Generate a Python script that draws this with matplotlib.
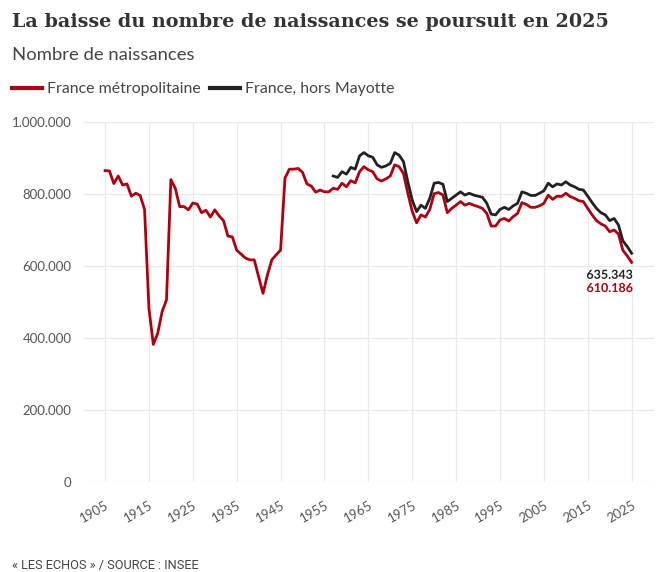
import matplotlib.pyplot as plt
import matplotlib.patheffects as pe

# Naissances, France metropolitaine (1905-2025)
metro_years = list(range(1905, 2026))
metro = [865000, 864000, 829000, 850000, 825000, 828000, 794000, 802000, 796000, 757000,
         482000, 382000, 413000, 473000, 506000, 840000, 816000, 765000, 765000, 756000,
         775000, 772000, 748000, 755000, 736000, 756000, 739000, 726000, 683000, 681000,
         644000, 633000, 622000, 617000, 617000, 570000, 524000, 575000, 617000, 631000,
         644000, 844000, 869000, 869000, 871000, 860000, 828000, 822000, 805000, 811000,
         806000, 806000, 816000, 813000, 830000, 820000, 837000, 831000, 862000, 876000,
         867000, 862000, 842000, 836000, 842000, 850000, 881000, 876000, 857000, 802000,
         752000, 720000, 742000, 736000, 757000, 801000, 804000, 797000, 748000, 760000,
         769000, 779000, 769000, 774000, 769000, 765000, 760000, 746000, 711000, 711000,
         728000, 732000, 725000, 737000, 746000, 776000, 771000, 763000, 763000, 767000,
         774000, 797000, 785000, 794000, 793000, 802000, 793000, 788000, 781000, 779000,
         760000, 742000, 726000, 717000, 711000, 695000, 700000, 689000, 644000, 628000,
         610186]

# Naissances, France hors Mayotte (1957-2025)
fr_years = list(range(1957, 2026))
france = [850000, 846000, 862000, 855000, 874000, 869000, 906000, 915000, 906000, 902000,
          881000, 874000, 878000, 885000, 915000, 908000, 890000, 834000, 783000, 751000,
          769000, 760000, 788000, 830000, 832000, 827000, 779000, 788000, 797000, 806000,
          797000, 802000, 797000, 794000, 791000, 774000, 744000, 742000, 757000, 763000,
          757000, 767000, 774000, 806000, 802000, 796000, 796000, 802000, 809000, 830000,
          820000, 828000, 825000, 834000, 825000, 820000, 813000, 811000, 794000, 776000,
          760000, 748000, 742000, 726000, 732000, 714000, 670000, 654000, 635343]

x_ticks = list(range(1905, 2026, 10))
y_ticks = [0, 200000, 400000, 600000, 800000, 1000000]

RED = "#b0000f"
BLACK = "#222222"
GRID = "#e9e9e9"
SANS = "Lato"


def fmt(v):
    return f"{v:,}".replace(",", ".")


fig = plt.figure(figsize=(6.56, 5.72), dpi=100)
ax = fig.add_axes([84 / 656, 1 - 482 / 572, 570 / 656, 360 / 572])

ax.plot(metro_years, metro, color=RED, lw=2.0, label="France métropolitaine", zorder=3)
ax.plot(fr_years, france, color=BLACK, lw=2.0, label="France, hors Mayotte", zorder=3)

ax.set_xlim(1900.2, 2030.1)
ax.set_ylim(0, 1000000)
ax.set_xticks(x_ticks)
ax.set_yticks(y_ticks)
ax.set_yticklabels([fmt(v) for v in y_ticks], fontfamily=SANS, fontsize=9.5, color="#555555")
ax.set_xticklabels([str(v) for v in x_ticks], fontfamily=SANS, fontsize=9.5, color="#555555",
                   rotation=30, ha="right", va="top", rotation_mode="anchor")
ax.tick_params(axis="both", length=0)
ax.tick_params(axis="x", pad=12)
ax.tick_params(axis="y", pad=9)
ax.grid(True, color=GRID, lw=0.9)
ax.set_axisbelow(True)
for s in ax.spines.values():
    s.set_visible(False)

# Dernieres valeurs
for years, vals, col, dy in [(fr_years, france, BLACK, -15.5), (metro_years, metro, RED, -18.5)]:
    ax.annotate(fmt(vals[-1]), xy=(years[-1], vals[-1]), xytext=(1, dy),
                textcoords="offset points", ha="right", va="center",
                fontfamily=SANS, fontsize=9, fontweight="bold", color=col,
                path_effects=[pe.withStroke(linewidth=2, foreground="white")], zorder=5)

# Titres
fig.text(12 / 656, 1 - 27 / 572, "La baisse du nombre de naissances se poursuit en 2025",
         fontfamily="DejaVu Serif", fontweight="bold", fontsize=13.8, color="#333333",
         va="baseline")
fig.text(12 / 656, 1 - 59.5 / 572, "Nombre de naissances", fontfamily=SANS,
         fontsize=13.3, color="#444444", va="baseline")

leg = ax.legend(loc="center left", bbox_to_anchor=(12 / 656, 1 - 89 / 572),
                bbox_transform=fig.transFigure, ncol=2, frameon=False, borderpad=0,
                borderaxespad=0, handlelength=1.9, handletextpad=0.3, columnspacing=0.6,
                prop={"family": SANS, "size": 11.4})
for line in leg.get_lines():
    line.set_linewidth(3)
for t in leg.get_texts():
    t.set_color("#444444")

fig.text(12 / 656, 1 - 565 / 572, "« LES ECHOS » / SOURCE : INSEE", fontfamily="Roboto",
         fontsize=9.2, color="#444444", va="center")

plt.savefig("out.png", dpi=100)
